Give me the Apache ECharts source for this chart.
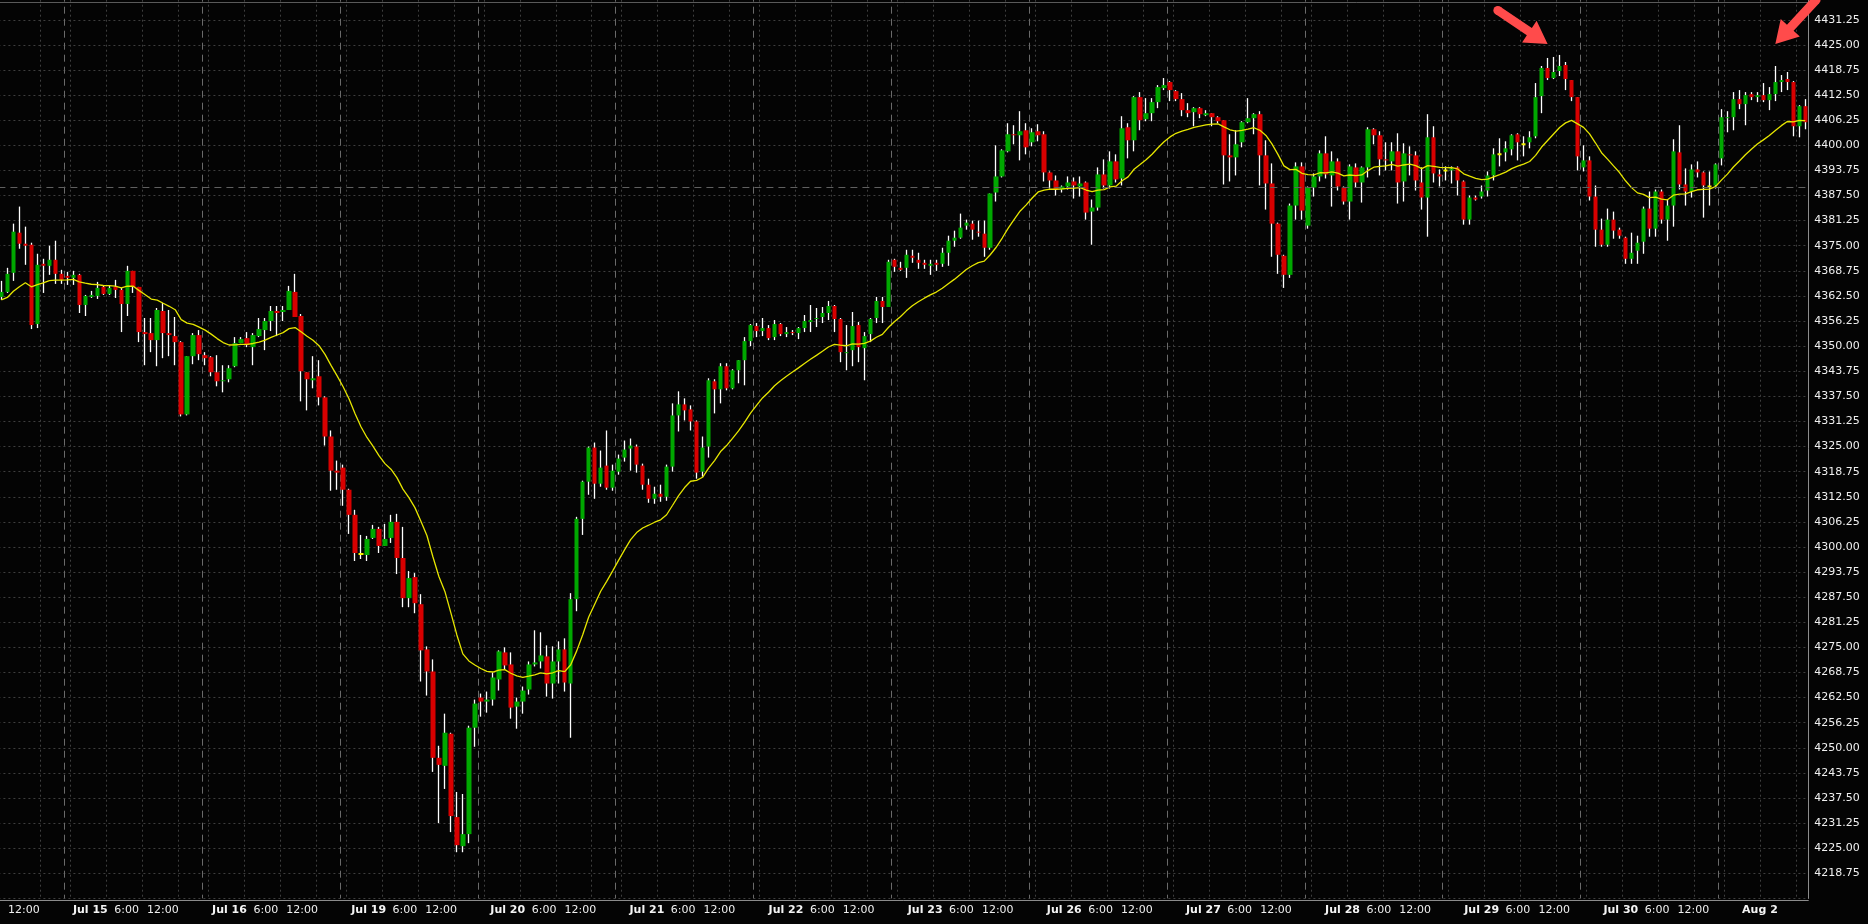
<!DOCTYPE html>
<html><head><meta charset="utf-8">
<script src="https://cdn.jsdelivr.net/npm/echarts@6/dist/echarts.min.js"></script>
<style>html,body{margin:0;padding:0;background:#040404;overflow:hidden}#c{width:1868px;height:924px}</style>
</head><body><div id="c"></div>
<script>
// ---- session / time structure ----
const sessionDates = ['Jul 14','Jul 15','Jul 16','Jul 19','Jul 20','Jul 21','Jul 22','Jul 23','Jul 26','Jul 27','Jul 28','Jul 29','Jul 30','Aug 2'];
const sessionHours = [17,18,19,20,21,22,23,0,1,2,3,4,5,6,7,8,9,10,11,12,13,14,15];
const firstSessionSkip = 12; // first visible bar is 5:00
const labelHours = [0, 6, 12];
const lineHours = [18, 0, 6, 12];
const yTickStep = 6.25;
const yMin = 4212.5, yMax = 4437.5;
const refLevel = 4389.5;
const maPeriod = 20, maSeed = 4361.5;

// ---- hourly bars: [open, high, low, close] ----
const jul14 = [[4362.25,4366.25,4361.5,4363.5],[4363.5,4369.5,4363.25,4368],[4368.25,4380.5,4366.25,4378.5],[4378.25,4384.75,4374.25,4375.5],[4375.5,4379.75,4370.25,4375],[4375.25,4375.75,4354.25,4355.25],[4355.5,4373,4354.5,4370.25],[4370.5,4371.75,4363.25,4370],[4370,4375,4367.75,4371.5],[4371.5,4376.25,4365.5,4368],[4368,4369,4365.5,4366.5]];
const jul15 = [[4367.5,4368.5,4365.25,4367],[4367,4368.75,4365.25,4367.75],[4367.75,4368,4358.25,4360.25],[4360.25,4362.75,4357.5,4362.5],[4362.25,4363.75,4362,4362.75],[4362.5,4366,4361.75,4364.5],[4364.75,4365,4362.75,4363],[4363,4365,4362.75,4364.5],[4364.75,4366.5,4362,4364],[4364,4364.5,4353.5,4360.5],[4360.5,4370,4357.5,4368.75],[4368.75,4368.75,4363.25,4364.75],[4364.75,4364.75,4351,4353.5],[4353.5,4357,4345.25,4353],[4353.25,4357,4348.5,4351.5],[4351.5,4359.5,4345,4359],[4358.75,4360.75,4347,4353.25],[4353.25,4359,4347.5,4352.75],[4352.5,4357.25,4345.25,4351],[4351,4351.25,4332.5,4333],[4333,4347.5,4332.75,4347.5],[4347.5,4353.25,4345.5,4352.75],[4352.75,4354,4346.5,4348]];
const jul16 = [[4347.75,4348.5,4345.25,4347],[4347.25,4347.5,4342.5,4343.5],[4343.5,4347.75,4340,4341.25],[4341.25,4345.25,4338.5,4341.5],[4341.75,4345.25,4341,4344.5],[4345,4352.25,4344.75,4350.75],[4350.75,4352.25,4350.75,4351.75],[4352,4353.5,4349.75,4350.25],[4349.75,4353.25,4345.25,4352.75],[4352.5,4357,4352.25,4354.25],[4354,4357,4349,4356.25],[4356.25,4360,4353.75,4358.75],[4358.75,4360,4352.5,4358.25],[4358.5,4360,4356.25,4359],[4359,4365,4359,4363.75],[4363.5,4368,4357.25,4357.25],[4357.5,4358,4336.25,4343.75],[4343.5,4343.5,4334,4341.75],[4341.5,4347.5,4339.5,4342],[4342.5,4346.5,4335.25,4337.25],[4337.25,4337.5,4325.25,4327.5],[4327.5,4329,4314,4319],[4319,4321.5,4314.25,4318.5]];
const jul19 = [[4319.75,4320.5,4310.25,4314.25],[4314.25,4314.5,4303.25,4308],[4308,4309.25,4296.5,4298.5],[4298.25,4303,4297,4298.25],[4298,4302.75,4296.5,4302],[4302.25,4305.5,4302,4304.5],[4304.5,4305,4298.5,4300.25],[4300.25,4305.75,4300.25,4302],[4302.25,4308,4301,4306.25],[4306.25,4308.25,4293.25,4297.25],[4297.25,4305,4285,4287.25],[4287.25,4294,4285,4292.25],[4292.5,4293.5,4283.5,4286],[4285.75,4288.25,4266.5,4274.25],[4274.5,4275.25,4263,4269],[4269,4272,4244,4247.5],[4247.5,4250.5,4231.25,4245.75],[4245.5,4258.5,4239.75,4253.75],[4253.5,4253.75,4229,4233],[4232.75,4239,4224,4225.75],[4225.5,4238.5,4224,4228.5],[4228.5,4255.5,4226.25,4255],[4255,4262,4250.25,4261]];
const jul20 = [[4262.5,4263.5,4257.75,4261.5],[4261.5,4264,4258.75,4262],[4262,4268.75,4260.5,4267.5],[4267,4274.25,4264.25,4274],[4273.75,4275,4269.5,4270.5],[4270.75,4273.75,4257.25,4260],[4260.25,4262.5,4254.75,4261.5],[4261.5,4265.25,4258.5,4264.25],[4264.5,4271.5,4263.25,4270.75],[4270.75,4279.25,4270.25,4271.25],[4271.5,4278.75,4269.75,4273],[4272.75,4275.5,4262.75,4266],[4266,4275.25,4262.25,4271.5],[4271.5,4276.5,4266,4274.5],[4274.5,4277.25,4264,4266.25],[4266,4288.5,4252.5,4287],[4287,4307.5,4284,4307],[4307,4316.5,4303,4316.25],[4316.25,4325,4313,4324.75],[4324.75,4326,4312,4315.75],[4315.75,4324,4315,4319.75],[4320.25,4329,4314.25,4314.75],[4314.75,4320.5,4314,4319]];
const jul21 = [[4318.75,4323,4318,4322],[4322.25,4326.5,4321.25,4324.25],[4324.5,4327,4319,4325.25],[4325,4325.5,4318.5,4320.5],[4320.25,4320.75,4314.25,4315.5],[4315.5,4317,4311,4312],[4312,4315,4310.75,4313.25],[4313.25,4315.5,4311.25,4312.5],[4312.5,4320.5,4311.5,4320],[4320,4335.75,4318.75,4332.75],[4332.75,4338.75,4328.75,4335.5],[4335.5,4337,4331.5,4334],[4334.25,4335.25,4329,4331.25],[4331.25,4331.5,4317,4318.5],[4318.75,4327.5,4317.5,4324.75],[4325,4342,4322.25,4341.5],[4341.25,4341.75,4333.25,4339.25],[4339.25,4345.75,4335.75,4345],[4345,4345.75,4339,4339.5],[4339.5,4344.25,4339.25,4344],[4344,4346.5,4340.75,4346.5],[4346.5,4352.25,4340.25,4351.25],[4351.25,4355.5,4350,4355.25]];
const jul22 = [[4355,4355.75,4352.25,4353.75],[4353.75,4357,4352.5,4354.5],[4354.5,4355.25,4351.5,4352],[4352.25,4356.5,4351.5,4355.5],[4355.5,4355.75,4352.5,4353],[4353,4354.75,4352.25,4353.5],[4353.5,4354,4352.75,4353.25],[4353.25,4354.75,4351.75,4354.5],[4354.5,4357.75,4353.5,4356.25],[4356,4360.25,4353.5,4356.5],[4356.75,4359.5,4354.75,4357],[4357.25,4359.75,4355.75,4358.25],[4358.25,4361.25,4356.5,4360],[4360,4360.25,4353.5,4356.75],[4356.75,4357,4346,4348.5],[4348.25,4355.25,4344,4348.5],[4349,4358.5,4345,4355],[4355.25,4356,4346,4349.75],[4349.5,4353.5,4341.5,4352.5],[4353,4357,4351,4356.75],[4357,4362.25,4355.75,4361.25],[4361.25,4362.25,4355.75,4359.75],[4359.75,4371.5,4359.75,4371]];
const jul23 = [[4371.5,4371.75,4368.5,4369.75],[4369.5,4371,4368.75,4369],[4369.5,4374,4367,4372.75],[4372.5,4374,4370.75,4372],[4371.5,4373.25,4369.25,4370.75],[4370.75,4371.5,4369.25,4370.25],[4370,4371.5,4367.75,4370.5],[4370.75,4371.5,4368.75,4370.25],[4370.5,4374.5,4369.75,4373.25],[4373.25,4377.5,4370,4376.25],[4376.25,4378.75,4374.75,4377],[4377,4383,4376.75,4379.5],[4380,4381.5,4379,4380.75],[4380.5,4381.25,4376.5,4379],[4378.5,4381.25,4377.25,4378.25],[4378,4381.25,4372.25,4374.5],[4374.5,4388,4374,4388],[4388.25,4400,4386,4392.25],[4392.25,4399,4392,4398.75],[4398.5,4405.5,4398.25,4402.75],[4402.75,4405,4400.25,4402.5],[4402.5,4408.5,4396.25,4403.5],[4403.75,4405.5,4397.75,4399.5]];
const jul26 = [[4400.75,4404.25,4399.75,4403.25],[4403.5,4405.25,4401,4402.5],[4402.75,4403.5,4391,4393.25],[4393.25,4393.5,4389.25,4391.25],[4391.25,4392.5,4387.5,4389],[4389,4390,4388.25,4389.75],[4389.75,4392.25,4389,4390.75],[4391,4392,4386.75,4390],[4389.75,4392.25,4387.25,4390.5],[4390.75,4391,4381.5,4383.25],[4383.5,4386.5,4375.25,4384.5],[4384.5,4394.5,4383.75,4392.75],[4392.75,4396.5,4389.25,4390],[4390,4398.5,4389.25,4396],[4396,4397.75,4390.75,4391.5],[4391.75,4407.25,4390,4404.25],[4404.5,4405.5,4396.75,4401.25],[4401.25,4412.25,4398.5,4412],[4412,4413.25,4403.75,4406.25],[4406.5,4411.75,4406,4408],[4408,4411.75,4406,4410.75],[4410.75,4415,4409.25,4414.5],[4414.25,4416.75,4413.75,4415]];
const jul27 = [[4415.75,4416,4411,4413.75],[4413.5,4413.75,4411,4411.5],[4411.5,4413,4407.25,4408.75],[4408.75,4410.5,4407,4408],[4408.25,4409.5,4404.75,4409.25],[4409.25,4409.5,4406.75,4407.75],[4407.5,4408.75,4407.25,4408],[4408,4408,4404.75,4407],[4407,4407.25,4405.5,4406],[4406.25,4406.25,4390.25,4397.5],[4397.5,4402.75,4391,4397],[4397,4403.75,4392.5,4400.25],[4400.75,4406,4399.5,4405.75],[4405.75,4411.75,4405.5,4406.75],[4406.75,4408,4402.75,4407.75],[4407.75,4408.5,4390,4397.5],[4397.5,4401.25,4384,4390.5],[4390.5,4395.5,4372.25,4380.5],[4380.5,4380.75,4368,4372.75],[4372.5,4372.75,4364.5,4367.75],[4367.75,4385.5,4367,4385],[4385,4395.75,4381.5,4394.75],[4394.75,4395.75,4381.5,4383.75]];
const jul28 = [[4380,4389.75,4379.25,4389.5],[4389.5,4393,4387.25,4392.25],[4392.25,4398.75,4391,4398],[4398,4402.25,4391.75,4392.75],[4392.5,4398.5,4384.75,4396],[4396,4396.75,4388.75,4389.75],[4389.5,4389.75,4385.25,4386],[4386,4395.25,4381.5,4394.75],[4394.5,4395.5,4389.5,4390.75],[4390.75,4394.75,4385.75,4394.5],[4394.5,4404.5,4392,4404],[4404,4404.25,4400.25,4402.5],[4402.5,4403.5,4392.5,4396.5],[4396.5,4400.75,4393.75,4396.25],[4396,4400.75,4393.75,4398.5],[4398.5,4403,4385.5,4390.75],[4391,4400.5,4386,4398],[4397.75,4399.75,4392.5,4397.5],[4397.5,4398.5,4388.75,4391.25],[4390.75,4394.5,4384,4387],[4387,4407.75,4377.25,4402],[4402,4404.75,4390.75,4393],[4392.75,4394,4389.75,4392.25]];
const jul29 = [[4393.75,4394.75,4391.25,4393.75],[4393.75,4394.75,4390.5,4394.25],[4394.5,4394.75,4387.5,4391.25],[4391,4391.25,4380.25,4381.5],[4381.5,4387.5,4380.25,4387],[4387,4387.5,4386.25,4386.5],[4387.25,4390,4386.75,4388.5],[4388.75,4393.5,4387.25,4392.5],[4392.5,4399.25,4391.25,4397.75],[4397.75,4401.75,4394.75,4397.75],[4398.25,4401,4396,4399.25],[4399,4402.75,4397.5,4402.5],[4402.75,4403,4396.25,4400.75],[4400.25,4402.25,4397.25,4400.25],[4400.75,4403.5,4399.25,4402],[4402.25,4415.5,4401.75,4412],[4412.25,4419.75,4408,4419.25],[4419.25,4421.75,4416.25,4416.75],[4416.75,4422,4416.5,4418.25],[4418.5,4422.5,4417.25,4419.75],[4420,4420.75,4413.75,4416.5],[4416.25,4416.25,4411,4412],[4412,4412,4393.75,4397.25]];
const jul30 = [[4394.5,4400,4393.5,4396.25],[4396.25,4397.25,4386.25,4387.25],[4387.25,4390,4374.75,4379],[4379,4381.75,4374.75,4375.25],[4375.25,4384.25,4374.75,4381.5],[4381.5,4383.5,4376.75,4378.75],[4379,4379.5,4376.75,4377.5],[4377,4377.25,4370.5,4371.75],[4371.75,4378.25,4370.5,4373.25],[4373.75,4377.5,4370.5,4375.75],[4376,4384.75,4373,4384.25],[4384.25,4388.5,4377.25,4379.25],[4379.25,4389,4377.25,4388.5],[4388.5,4389,4380.5,4381.5],[4381.5,4386.5,4376.25,4385],[4385,4401.5,4379.75,4398.5],[4398.25,4405,4389,4390.25],[4390.25,4394.25,4385,4388.5],[4388.5,4395.25,4387,4394],[4394,4396,4392,4393.25],[4393.25,4393.5,4382,4390],[4389.75,4393.5,4385,4389.75],[4390,4395.5,4389.25,4395.25]];
const aug02 = [[4396.75,4409,4395,4407],[4406.75,4408.5,4403.25,4407],[4407,4413.25,4403.75,4411.5],[4411.5,4413.75,4409,4410.25],[4410.25,4413.25,4405,4412.5],[4412.75,4413.25,4411.25,4412],[4412,4413.25,4410.75,4412.5],[4412.5,4415.5,4410.75,4411.25],[4411.25,4414.5,4408.75,4412.75],[4412.75,4419.75,4411,4415.75],[4415.75,4417.5,4413.25,4416.25],[4416.5,4418.25,4413.75,4415.75],[4415.75,4416,4402.25,4404.75],[4404.75,4410,4402,4409.75],[4409.75,4411.5,4404,4405.75]];

// arrows annotate these bars (index, price at the arrow tip, direction)
const arrowMarks = [[258, 4425.25, -1], [296, 4425.25, 1]];

// ---- build ----
const sessions = [jul14, jul15, jul16, jul19, jul20, jul21, jul22, jul23, jul26, jul27, jul28, jul29, jul30, aug02];
const categories = [], hours = [], bars = [];
sessions.forEach((list, s) => {
  const skip = s === 0 ? firstSessionSkip : 0;
  list.forEach((b, j) => {
    const h = sessionHours[skip + j];
    categories.push(sessionDates[s] + ' ' + h + ':00');
    hours.push(h);
    bars.push(b);
  });
});
const N = bars.length;
const closes = bars.map(b => b[3]);
const ema = [];
let e = maSeed;
closes.forEach((c, i) => { if (i > 0) e = e + (c - e) * 2 / (maPeriod + 1); ema.push(+e.toFixed(3)); });

const YEL = '#f2f200';
const wickData = bars.map(b => [b[0], b[3], b[2], b[1]]);
const bodyData = bars.map(b => {
  const v = [b[0], b[3], Math.min(b[0], b[3]), Math.max(b[0], b[3])];
  if (b[0] === b[3]) return { value: v, itemStyle: { borderColor: YEL, borderColor0: YEL, borderColorDoji: YEL, borderWidth: 2 } };
  return v;
});

const font = 'DejaVu Sans';
const W = 1868;
const plotRight = 59.7;
const plotLeft = -1.6;          // candle grid
const labelLeft = -18.55;       // time-label scale of the original is slightly wider
const gridTop = -5.3, gridBottom = 25.6;
const chart = echarts.init(document.getElementById('c'), null, { renderer: 'canvas' });
chart.setOption({
  animation: false,
  backgroundColor: '#040404',
  grid: [
    { left: plotLeft, right: plotRight, top: gridTop, bottom: gridBottom, containLabel: false, outerBoundsMode: 'none' },
    { left: labelLeft, right: plotRight, top: gridTop, bottom: gridBottom, containLabel: false, outerBoundsMode: 'none' }
  ],
  xAxis: [{
    type: 'category', gridIndex: 0, data: categories, boundaryGap: true, offset: 1.5,
    axisLine: { show: true, lineStyle: { color: '#8c8c8c', width: 1 } },
    axisTick: { show: false },
    axisLabel: { show: false },
    splitLine: {
      show: true,
      interval: (i) => i >= 3 && lineHours.includes(hours[i]),
      lineStyle: { color: '#3e3e3e', width: 1, type: [2, 3] }
    }
  }, {
    type: 'category', gridIndex: 0, data: categories, boundaryGap: true, position: 'top',
    axisLine: { show: false }, axisTick: { show: false }, axisLabel: { show: false },
    splitLine: {
      show: true,
      interval: (i) => i > 0 && hours[i] === sessionHours[0],
      lineStyle: { color: '#6a6a6a', width: 1, type: [7, 5] }
    }
  }, {
    type: 'category', gridIndex: 1, data: categories, boundaryGap: true, offset: 1.5,
    axisLine: { show: false }, axisTick: { show: false }, splitLine: { show: false },
    axisLabel: {
      show: true, margin: 5, color: '#f0f0f0', fontFamily: font, fontSize: 11,
      interval: (i) => i >= 3 && i <= N - 4 && labelHours.includes(hours[i]),
      formatter: (v, i) => {
        const h = hours[i];
        if (h === 0) return '{d|' + v.split(' ').slice(0, 2).join(' ') + '}';
        return '{t|' + h + ':00}';
      },
      rich: {
        d: { fontFamily: font, fontSize: 11, fontWeight: 'bold', color: '#f4f4f4', padding: [0, 6, 0, 0] },
        t: { fontFamily: font, fontSize: 11, color: '#f0f0f0', padding: [0, 6, 0, 0] }
      }
    }
  }],
  yAxis: [{
    type: 'value', gridIndex: 0, position: 'right', min: yMin, max: yMax, interval: yTickStep,
    axisLine: { show: true, lineStyle: { color: '#8c8c8c', width: 1 } },
    axisTick: { show: false },
    axisLabel: {
      show: true, margin: 6, color: '#f0f0f0', fontFamily: font, fontSize: 11,
      showMinLabel: false, showMaxLabel: false,
      formatter: v => v.toFixed(2)
    },
    splitLine: { show: true, lineStyle: { color: '#3e3e3e', width: 1, type: [2, 3] } }
  }, {
    type: 'value', gridIndex: 1, show: false, min: yMin, max: yMax, interval: yTickStep,
    splitLine: { show: false }
  }],
  series: [{
    name: 'wick', type: 'candlestick', xAxisIndex: 0, yAxisIndex: 0, data: wickData, barWidth: 1,
    itemStyle: { color: '#ffffff', color0: '#ffffff', borderColor: '#ffffff', borderColor0: '#ffffff', borderColorDoji: '#ffffff', borderWidth: 1.3 },
    silent: true, z: 2
  }, {
    name: 'body', type: 'candlestick', xAxisIndex: 0, yAxisIndex: 0, data: bodyData, barWidth: 5,
    itemStyle: { color: '#00a800', color0: '#d80000', borderColor: '#00a800', borderColor0: '#d80000', borderColorDoji: YEL, borderWidth: 0 },
    markLine: {
      silent: true, symbol: 'none', label: { show: false },
      lineStyle: { color: '#606060', width: 1, type: [7, 5] },
      data: [{ yAxis: refLevel }]
    },
    silent: true, z: 3
  }, {
    name: 'EMA', type: 'line', xAxisIndex: 0, yAxisIndex: 0, data: ema, showSymbol: false, symbol: 'none',
    lineStyle: { color: '#e6e600', width: 1.3 }, silent: true, z: 4
  }]
});

// frame top line and annotation arrows
function arrowPoly(tip, dir, len) {
  const [dx, dy] = dir; const m = Math.hypot(dx, dy); const ux = dx / m, uy = dy / m;
  const nx = -uy, ny = ux;
  const headLen = 22, headHalf = 13, shaftHalf = 4.5;
  const bx = tip[0] - ux * headLen, by = tip[1] - uy * headLen;
  const tx = tip[0] - ux * len, ty = tip[1] - uy * len;
  return [tip,
    [bx + nx * headHalf, by + ny * headHalf], [bx + nx * shaftHalf, by + ny * shaftHalf],
    [tx + nx * shaftHalf, ty + ny * shaftHalf], [tx - nx * shaftHalf, ty - ny * shaftHalf],
    [bx - nx * shaftHalf, by - ny * shaftHalf], [bx - nx * headHalf, by - ny * headHalf]];
}
const gfx = [];
const rightX = W - plotRight;
gfx.push({ type: 'line', shape: { x1: 0, y1: 2.5, x2: rightX, y2: 2.5 }, style: { stroke: '#5a5a5a', lineWidth: 1 }, z: 10 });
arrowMarks.forEach(([idx, price, side]) => {
  const p = chart.convertToPixel({ xAxisIndex: 0, yAxisIndex: 0 }, [idx, price]);
  const dir = side < 0 ? [49, 33] : [-37, 40];
  gfx.push({ type: 'polygon', shape: { points: arrowPoly(p, dir, 60) }, style: { fill: '#ff4b4b' }, z: 20 });
  const m = Math.hypot(dir[0], dir[1]);
  gfx.push({ type: 'circle', shape: { cx: p[0] - dir[0] / m * 60, cy: p[1] - dir[1] / m * 60, r: 4.5 }, style: { fill: '#ff4b4b' }, z: 20 });
});
chart.setOption({ graphic: gfx });
</script>
</body></html>
